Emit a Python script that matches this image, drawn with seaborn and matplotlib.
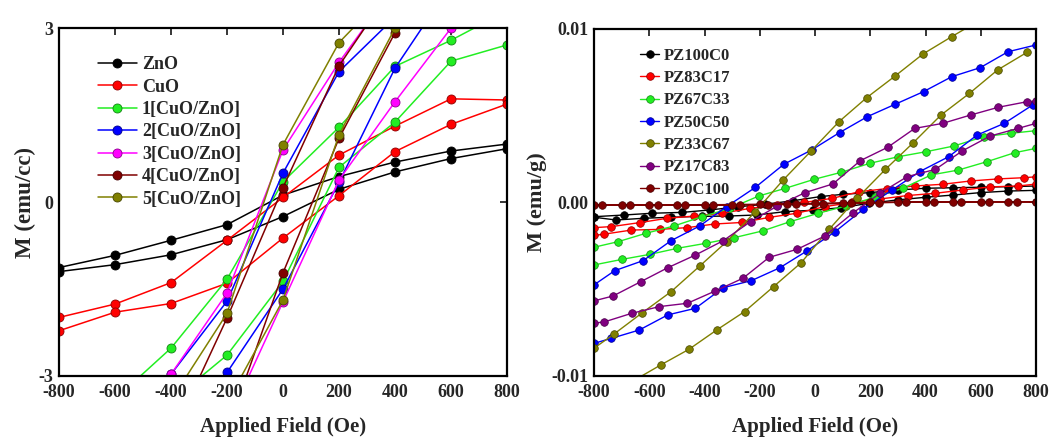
import numpy as np
import pandas as pd
import matplotlib
matplotlib.use("Agg")
import matplotlib.pyplot as plt
import matplotlib.colors as mcolors
import seaborn as sns

# ---------------- Left panel data (emu/cc) ----------------
H_DESC = [800, 600, 400, 200, 0, -200, -400, -600, -800]
H_ASC = [-800, -600, -400, -200, 0, 200, 400, 600, 800]

left_names = ["ZnO", "CuO", "1[CuO/ZnO]", "2[CuO/ZnO]", "3[CuO/ZnO]",
              "4[CuO/ZnO]", "5[CuO/ZnO]"]
left_colors = ["#000000", "#ff0000", "#22ee22", "#0000ff", "#ff00ff",
               "#800000", "#808000"]

zno_up = [1.00, 0.88, 0.69, 0.44, 0.12, -0.39, -0.66, -0.92, -1.13]
zno_lo = [-1.20, -1.08, -0.91, -0.65, -0.25, 0.22, 0.52, 0.75, 0.92]
cuo_up = [1.76, 1.78, 1.31, 0.81, 0.08, -0.66, -1.39, -1.76, -1.99]
cuo_lo = [-2.22, -1.90, -1.75, -1.40, -0.62, 0.11, 0.87, 1.34, 1.69]
s1_up = [3.30, 2.79, 2.34, 1.29, 0.35, -1.33, -2.52, -3.40, -4.00]
s1_lo = [-4.50, -4.00, -3.44, -2.64, -1.37, 0.60, 1.38, 2.43, 2.71]
s2_up = [4.50, 4.00, 3.19, 2.25, 0.50, -1.71, -2.97, -3.80, -4.30]
s2_lo = [-5.00, -4.60, -4.40, -2.94, -1.50, 0.34, 2.31, 3.75, 4.30]
s3_up = [4.60, 4.30, 3.74, 2.41, 0.90, -1.57, -2.97, -3.80, -4.30]
s3_lo = [-5.50, -5.20, -4.60, -3.82, -1.72, 0.38, 1.73, 3.00, 3.80]
s4_up = [5.00, 4.50, 3.77, 2.35, 0.25, -2.00, -4.08, -4.60, -5.00]
s4_lo = [-5.50, -5.00, -4.60, -3.95, -1.22, 1.10, 2.92, 3.80, 4.20]
s5_up = [5.50, 5.00, 3.75, 2.75, 0.99, -1.92, -3.42, -4.20, -4.80]
s5_lo = [-5.50, -5.00, -4.40, -3.46, -1.69, 1.16, 3.00, 4.20, 4.80]

left_up = [zno_up, cuo_up, s1_up, s2_up, s3_up, s4_up, s5_up]
left_lo = [zno_lo, cuo_lo, s1_lo, s2_lo, s3_lo, s4_lo, s5_lo]

# ---------------- Right panel data (x 1e-3 emu/g) ----------------
right_names = ["PZ100C0", "PZ83C17", "PZ67C33", "PZ50C50", "PZ33C67",
               "PZ17C83", "PZ0C100"]
right_colors = ["#000000", "#ff0000", "#22ee22", "#0000ff", "#808000",
                "#800080", "#800000"]

# PZ100C0
pz100_h_up = [800, 700, 600, 500, 400, 300, 200, 100, 20, -80, -180, -280, -380, -480, -590, -690, -800]
pz100_m_up = [0.95, 0.91, 0.88, 0.85, 0.82, 0.72, 0.57, 0.47, 0.34, 0.10, -0.10, -0.25, -0.43, -0.57, -0.62, -0.72, -0.82]
pz100_h_lo = [-800, -720, -620, -520, -410, -312, -211, -109, -8, 95, 195, 300, 400, 500, 600, 700, 800]
pz100_m_lo = [-0.85, -1.01, -0.91, -0.85, -0.80, -0.78, -0.72, -0.53, -0.45, -0.30, -0.05, 0.15, 0.30, 0.43, 0.57, 0.66, 0.70]
# PZ83C17
pz83_h_up = [800, 758, 664, 563, 462, 361, 260, 160, 63, -40, -136, -236, -335, -437, -535, -634, -737, -800]
pz83_m_up = [1.48, 1.43, 1.36, 1.24, 1.05, 0.95, 0.80, 0.62, 0.24, 0.00, -0.15, -0.34, -0.62, -0.78, -0.91, -1.16, -1.39, -1.45]
pz83_h_lo = [-800, -765, -665, -562, -463, -363, -263, -166, -66, 35, 135, 235, 335, 435, 535, 635, 735, 800]
pz83_m_lo = [-1.90, -1.83, -1.59, -1.55, -1.45, -1.24, -1.15, -0.86, -0.62, -0.24, 0.00, 0.20, 0.40, 0.53, 0.72, 0.90, 0.95, 1.06]
# PZ67C33
pz67_h_up = [800, 711, 610, 504, 403, 302, 199, 95, -2, -107, -204, -308, -409, -512, -613, -713, -800]
pz67_m_up = [4.14, 3.99, 3.79, 3.26, 2.93, 2.64, 2.26, 1.74, 1.34, 0.82, 0.37, -0.34, -0.82, -1.36, -1.78, -2.26, -2.58]
pz67_h_lo = [-800, -699, -598, -498, -394, -293, -190, -89, 12, 113, 216, 318, 421, 519, 622, 723, 800]
pz67_m_lo = [-3.60, -3.28, -2.99, -2.64, -2.35, -2.03, -1.64, -1.10, -0.62, -0.20, 0.30, 0.82, 1.59, 1.87, 2.35, 2.87, 3.12]
# PZ50C50
pz50_h_up = [800, 699, 598, 495, 393, 290, 190, 89, -12, -113, -216, -320, -417, -521, -622, -725, -800]
pz50_m_up = [9.08, 8.69, 7.77, 7.25, 6.39, 5.66, 4.95, 4.03, 3.03, 2.20, 0.87, -0.24, -1.35, -2.20, -3.35, -3.93, -4.75]
pz50_h_lo = [-800, -737, -636, -533, -433, -332, -231, -127, -30, 73, 175, 279, 379, 484, 587, 685, 788]
pz50_m_lo = [-8.12, -7.83, -7.35, -6.48, -6.10, -4.91, -4.51, -3.76, -2.80, -1.68, -0.39, 0.72, 1.78, 2.64, 3.89, 4.56, 5.62]
# PZ33C67
pz33_h_up = [800, 697, 596, 495, 391, 290, 187, 87, -14, -115, -216, -320, -417, -521, -628, -729, -800]
pz33_m_up = [12.4, 11.5, 10.5, 9.56, 8.56, 7.29, 6.04, 4.66, 2.97, 1.30, -0.53, -2.26, -3.66, -5.14, -6.39, -7.60, -8.40]
pz33_h_lo = [-800, -760, -660, -559, -456, -356, -255, -150, -50, 51, 152, 255, 356, 456, 559, 661, 768]
pz33_m_lo = [-12.0, -11.3, -10.3, -9.37, -8.46, -7.35, -6.29, -4.85, -3.47, -1.55, 0.24, 1.91, 3.45, 5.04, 6.29, 7.64, 8.66]
# PZ17C83
pz17_h_up = [800, 768, 664, 563, 462, 361, 263, 164, 65, -36, -136, -233, -332, -433, -533, -630, -731, -800]
pz17_m_up = [5.85, 5.81, 5.49, 5.04, 4.56, 4.27, 3.18, 2.41, 1.07, 0.57, -0.20, -1.10, -2.20, -3.03, -3.76, -4.56, -5.39, -5.67]
pz17_h_lo = [-800, -764, -664, -563, -462, -361, -261, -166, -65, 36, 136, 235, 334, 436, 533, 634, 735, 800]
pz17_m_lo = [-6.95, -6.89, -6.39, -6.00, -5.81, -5.10, -4.37, -3.16, -2.70, -1.93, -0.62, 0.53, 1.49, 1.91, 2.97, 3.83, 4.27, 4.56]
# PZ0C100
pz0_h_up = [800, 700, 600, 500, 400, 300, 200, 100, 0, -100, -200, -300, -400, -500, -600, -700, -800]
pz0_m_up = [0.04, 0.04, 0.04, 0.03, 0.03, 0.02, 0.00, -0.02, -0.05, -0.08, -0.10, -0.12, -0.13, -0.14, -0.14, -0.14, -0.14]
pz0_h_lo = [-770, -670, -570, -470, -370, -270, -170, -70, 30, 130, 230, 330, 430, 530, 630, 730, 800]
pz0_m_lo = [-0.15, -0.15, -0.15, -0.15, -0.15, -0.14, -0.12, -0.10, -0.08, -0.05, -0.02, 0.02, 0.03, 0.04, 0.04, 0.04, 0.04]

right_h = [(pz100_h_up, pz100_h_lo), (pz83_h_up, pz83_h_lo), (pz67_h_up, pz67_h_lo),
           (pz50_h_up, pz50_h_lo), (pz33_h_up, pz33_h_lo), (pz17_h_up, pz17_h_lo),
           (pz0_h_up, pz0_h_lo)]
right_m = [(pz100_m_up, pz100_m_lo), (pz83_m_up, pz83_m_lo), (pz67_m_up, pz67_m_lo),
           (pz50_m_up, pz50_m_lo), (pz33_m_up, pz33_m_lo), (pz17_m_up, pz17_m_lo),
           (pz0_m_up, pz0_m_lo)]

x_ticks = [-800, -600, -400, -200, 0, 200, 400, 600, 800]
left_yticks = [-3, 0, 3]
right_yticks = [-0.01, 0.0, 0.01]
right_yticklabels = ["-0.01", "0.00", "0.01"]

# ---------------- Style ----------------
sns.set_style("white")
plt.rcParams["font.family"] = ["Liberation Serif", "DejaVu Serif"]
plt.rcParams["font.weight"] = "bold"
plt.rcParams["axes.labelweight"] = "bold"

fig = plt.figure(figsize=(10.63, 4.46), dpi=100)
axL = fig.add_axes([0.0555, 0.157, 0.4215, 0.780])
axR = fig.add_axes([0.5588, 0.157, 0.4158, 0.778])


def darker(c, f=0.55):
    r, g, b = mcolors.to_rgb(c)
    return (r * f, g * f, b * f)


# Left loops
for name, col, up, lo in zip(left_names, left_colors, left_up, left_lo):
    df = pd.DataFrame({"H": H_DESC + H_ASC, "M": up + lo})
    sns.lineplot(data=df, x="H", y="M", ax=axL, sort=False, estimator=None,
                 color=col, marker="o", markersize=6.5, linewidth=1.1,
                 markeredgecolor=darker(col), markeredgewidth=0.6,
                 label=name)

# Right loops
for name, col, (hu, hl), (mu, ml) in zip(right_names, right_colors, right_h, right_m):
    df = pd.DataFrame({"H": hu + hl, "M": np.array(mu + ml) * 1e-3})
    sns.lineplot(data=df, x="H", y="M", ax=axR, sort=False, estimator=None,
                 color=col, marker="o", markersize=5.5, linewidth=1.0,
                 markeredgecolor=darker(col), markeredgewidth=0.5,
                 label=name)

for ax in (axL, axR):
    ax.set_xlim(-800, 800)
    ax.set_xticks(x_ticks)
    ax.set_xticklabels([str(t) for t in x_ticks])
    ax.tick_params(direction="in", top=True, right=True, length=5, width=1.3,
                   labelsize=13)
    ax.tick_params(axis="x", pad=6)
    ax.tick_params(axis="y", pad=4)
    for s in ax.spines.values():
        s.set_linewidth(1.6)
        s.set_color("black")
    ax.set_xlabel("Applied Field (Oe)", fontsize=15, fontweight="bold", labelpad=11)
    for lab in ax.get_xticklabels() + ax.get_yticklabels():
        lab.set_fontweight("bold")

axL.set_ylim(-3, 3)
axL.set_yticks(left_yticks)
axL.set_yticklabels([str(t) for t in left_yticks], fontweight="bold")
axL.set_ylabel("M (emu/cc)", fontsize=16.5, fontweight="bold", labelpad=2)

axR.set_ylim(-0.01, 0.01)
axR.set_yticks(right_yticks)
axR.set_yticklabels(right_yticklabels, fontweight="bold")
axR.set_ylabel("M (emu/g)", fontsize=16, fontweight="bold", labelpad=3)

legL = axL.legend(loc="upper left", bbox_to_anchor=(0.07, 0.94), frameon=False,
                  fontsize=13, handlelength=2.2, handletextpad=0.25,
                  labelspacing=0.3, borderaxespad=0)
legR = axR.legend(loc="upper left", bbox_to_anchor=(0.09, 0.965), frameon=False,
                  fontsize=12, handlelength=1.1, handletextpad=0.3,
                  labelspacing=0.38, borderaxespad=0)
for t in legL.get_texts() + legR.get_texts():
    t.set_fontweight("bold")

fig.savefig("out.png", dpi=100, facecolor="white")
